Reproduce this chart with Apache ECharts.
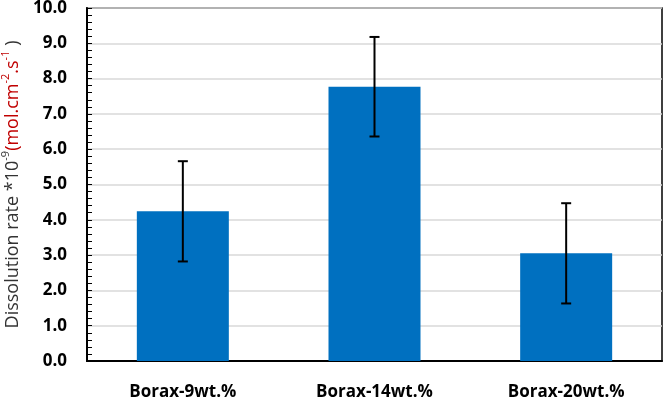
<!DOCTYPE html>
<html>
<head>
<meta charset="utf-8">
<script src="https://cdn.jsdelivr.net/npm/echarts@6/dist/echarts.min.js"></script>
<style>
  html, body { margin: 0; padding: 0; background: #fff; }
  #main { width: 666px; height: 398px; }
</style>
</head>
<body>
<div id="main"></div>
<script>
// samples on the x axis
var categories = ['Borax-9wt.%', 'Borax-14wt.%', 'Borax-20wt.%'];
// dissolution rate, x 10^-9 mol.cm-2.s-1
var rates = [4.24, 7.77, 3.05];
// error bar half-heights
var errors = [1.42, 1.41, 1.42];
// y ticks
var yMin = 0, yMax = 10, yStep = 1;

var errData = rates.map(function (v, i) {
    return [i, v - errors[i], v + errors[i]];
});

var myChart = echarts.init(document.getElementById('main'));

var tickFont = {
    color: '#000',
    fontWeight: 'bold',
    fontSize: 17,
    fontFamily: '"Open Sans", sans-serif'
};

var option = {
    animation: false,
    grid: {
        left: 87,
        right: 4,
        top: 8,
        bottom: 37,
        outerBoundsMode: 'none',
        containLabel: false,
        show: true,
        borderColor: '#000',
        borderWidth: 1.5
    },
    xAxis: {
        type: 'category',
        data: categories,
        axisLine: { lineStyle: { color: '#000', width: 2 } },
        axisTick: { show: false },
        axisLabel: Object.assign({ margin: 23 }, tickFont)
    },
    yAxis: {
        type: 'value',
        min: yMin,
        max: yMax,
        interval: yStep,
        axisLine: { show: true, lineStyle: { color: '#000', width: 2 } },
        axisTick: { show: true, inside: true, length: 5, lineStyle: { color: '#000' } },
        minorTick: { show: true, splitNumber: 5, length: 5, lineStyle: { color: '#000' } },
        splitLine: { lineStyle: { color: '#d9d9d9', width: 1.5 } },
        axisLabel: Object.assign({
            margin: 20,
            formatter: function (v) { return v.toFixed(1); }
        }, tickFont),
        name: '{a|Dissolution rate *10}{s|-9}{r|(mol.cm}{rs|-2}{r|.s}{rs|-1}{a| )}',
        nameLocation: 'middle',
        nameRotate: 90,
        nameGap: 63,
        nameTextStyle: {
            rich: {
                a: { fontSize: 18, color: '#333', lineHeight: 22, verticalAlign: 'bottom', fontFamily: '"Open Sans", sans-serif' },
                r: { fontSize: 18, color: '#c00000', lineHeight: 22, verticalAlign: 'bottom', fontFamily: '"Open Sans", sans-serif' },
                s: { fontSize: 11, color: '#333', lineHeight: 12, verticalAlign: 'top', fontFamily: '"Open Sans", sans-serif' },
                rs: { fontSize: 11, color: '#c00000', lineHeight: 12, verticalAlign: 'top', fontFamily: '"Open Sans", sans-serif' }
            }
        }
    },
    series: [
        {
            type: 'bar',
            data: rates,
            barWidth: '48%',
            itemStyle: { color: '#0070c0' }
        },
        {
            type: 'custom',
            data: errData,
            encode: { x: 0, y: [1, 2] },
            z: 10,
            renderItem: function (params, api) {
                var x = api.value(0);
                var lo = api.coord([x, api.value(1)]);
                var hi = api.coord([x, api.value(2)]);
                var cap = 5;
                var style = { stroke: '#000', lineWidth: 2 };
                return {
                    type: 'group',
                    children: [
                        { type: 'line', shape: { x1: lo[0], y1: lo[1], x2: hi[0], y2: hi[1] }, style: style },
                        { type: 'line', shape: { x1: hi[0] - cap, y1: hi[1], x2: hi[0] + cap, y2: hi[1] }, style: style },
                        { type: 'line', shape: { x1: lo[0] - cap, y1: lo[1], x2: lo[0] + cap, y2: lo[1] }, style: style }
                    ]
                };
            }
        }
    ]
};

myChart.setOption(option);
</script>
</body>
</html>
